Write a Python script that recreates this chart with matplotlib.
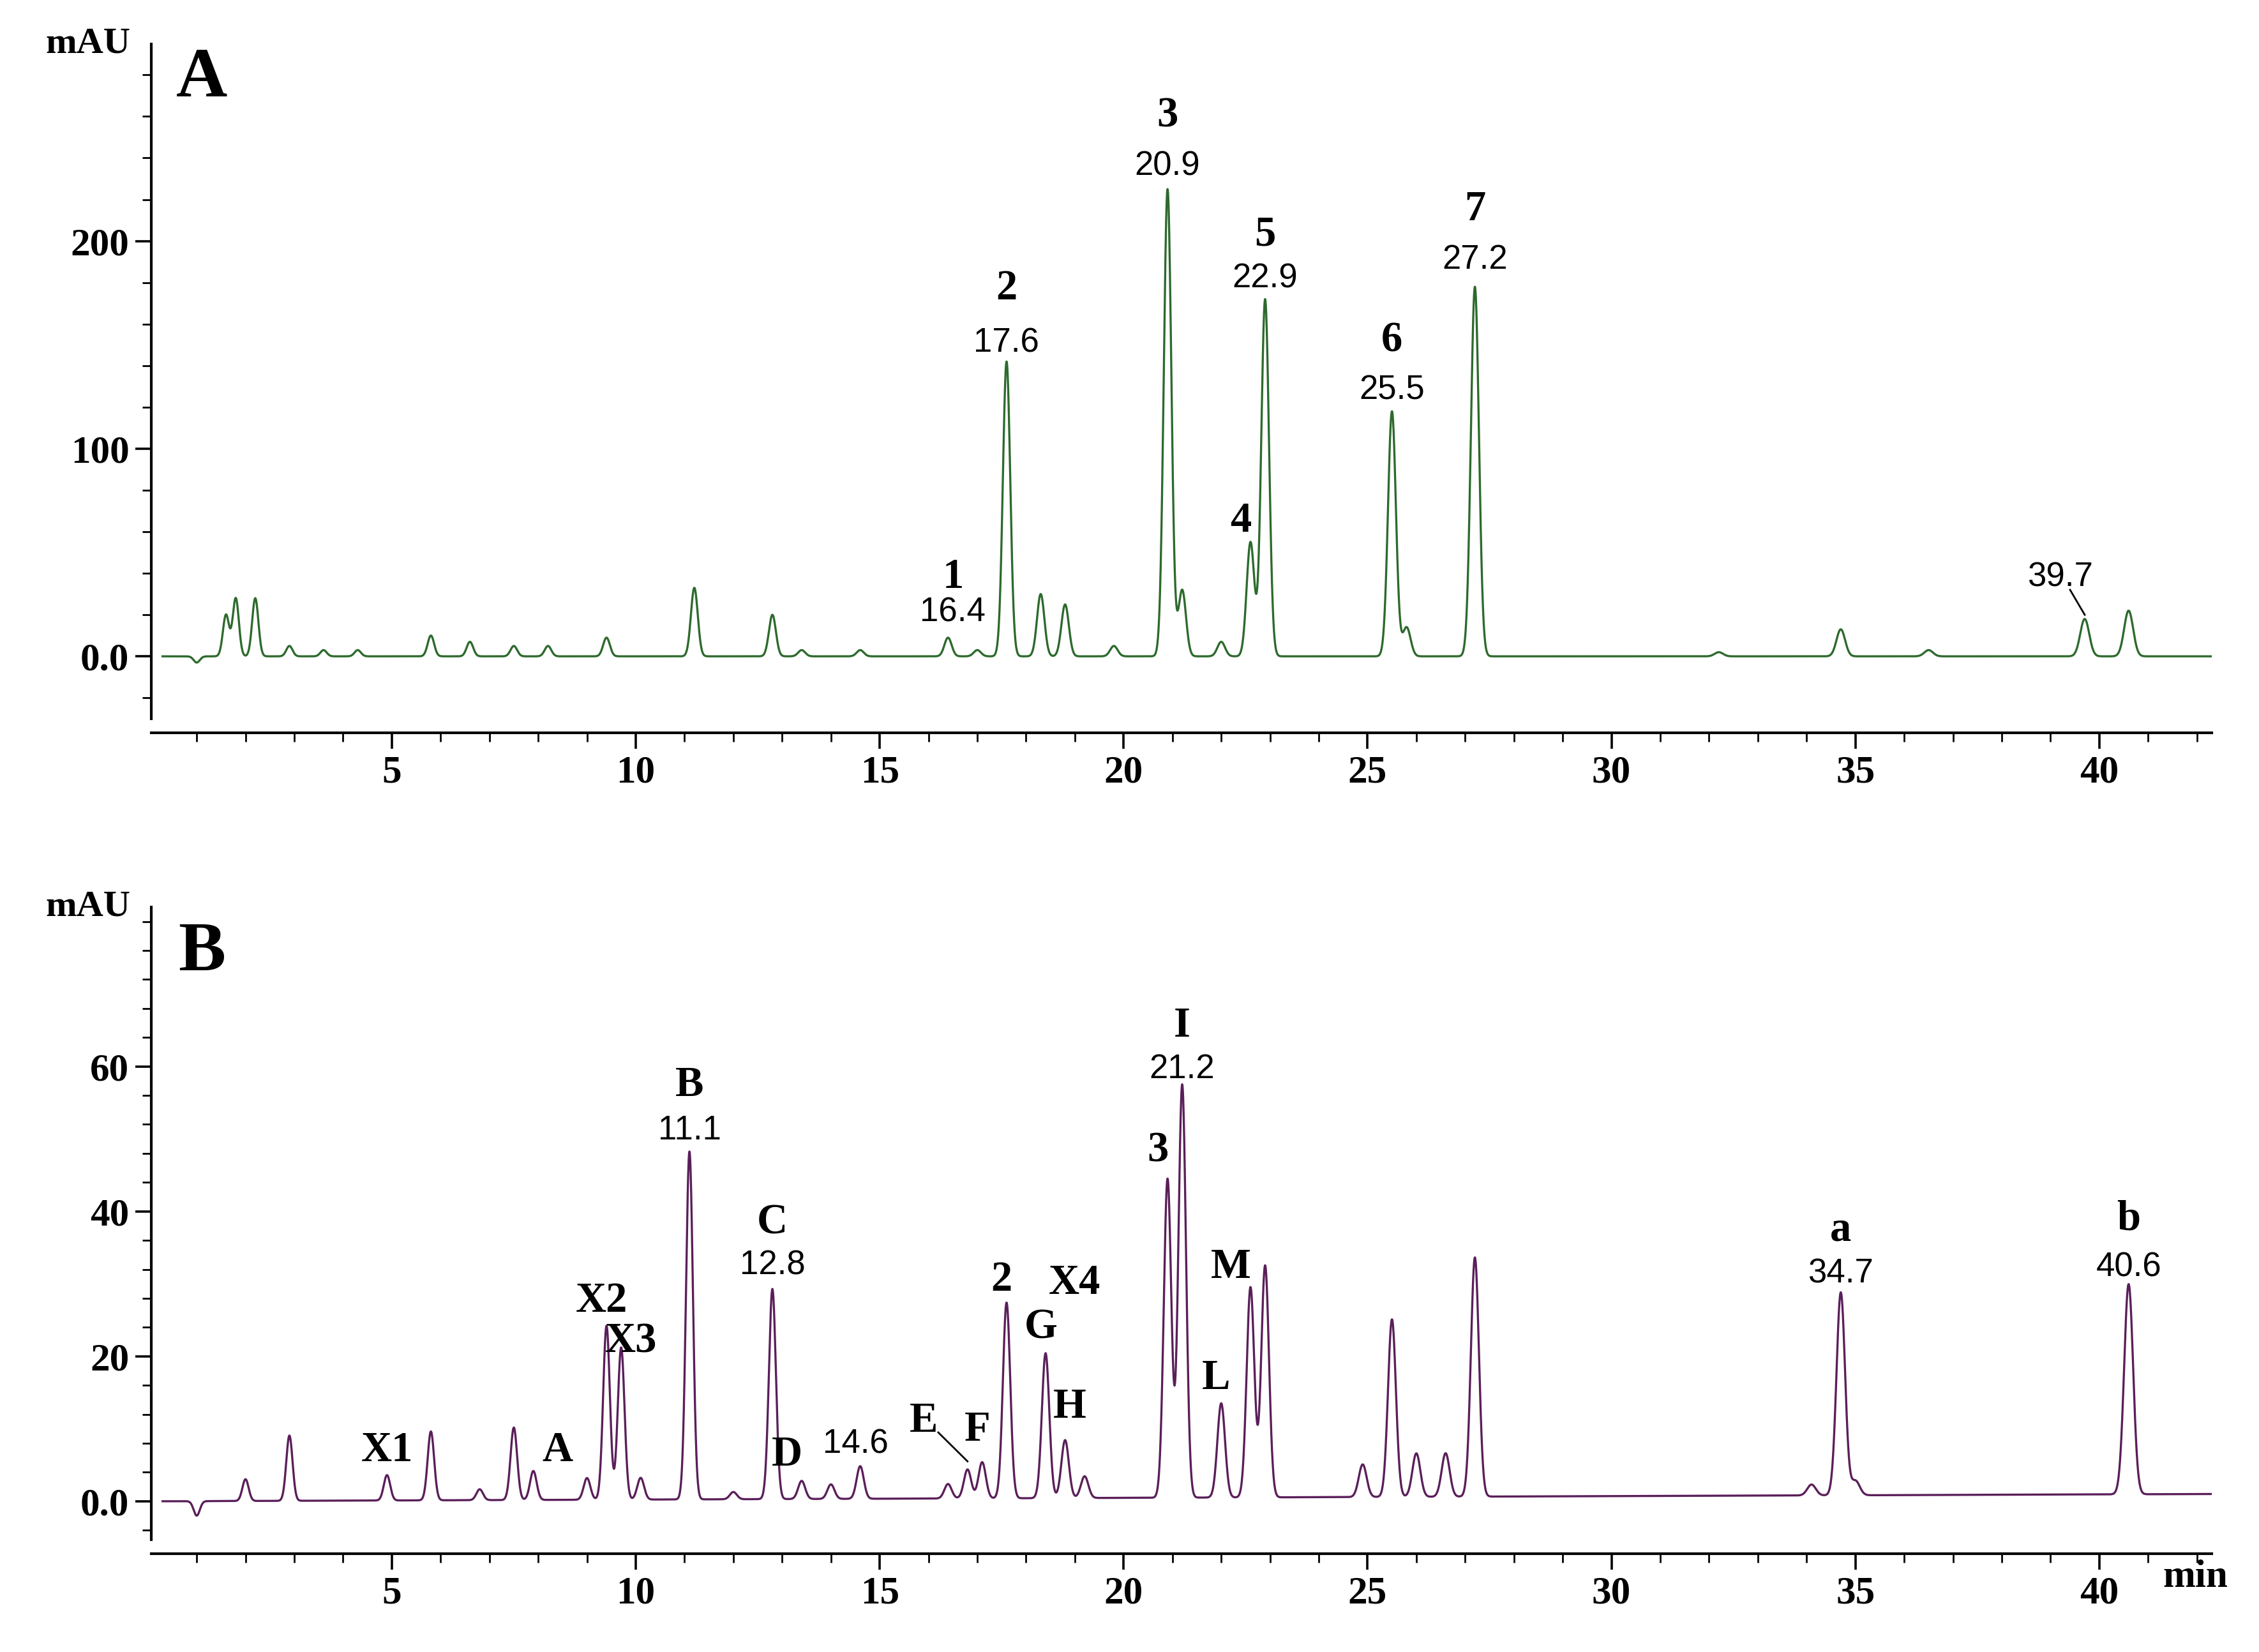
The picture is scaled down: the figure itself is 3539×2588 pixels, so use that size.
import numpy as np
import matplotlib
matplotlib.use("Agg")
import matplotlib.pyplot as plt
from matplotlib.ticker import MultipleLocator

# Peak tables (retention time min, apex height mAU)
a_rt = [1.0, 1.6, 1.8, 2.2, 2.9, 3.6, 4.3, 5.8, 6.6, 7.5, 8.2, 9.4, 11.2, 12.8, 13.4, 14.6, 16.4, 17.0,
        17.6, 18.3, 18.8, 19.8, 20.9, 21.2, 22.0, 22.6, 22.9, 25.5, 25.8, 27.2, 32.2, 34.7, 36.5, 39.7, 40.6]
a_h = [-3, 20, 28, 28, 5, 3, 3, 10, 7, 5, 5, 9, 33, 20, 3, 3, 9, 3,
       142, 30, 25, 5, 225, 32, 7, 55, 172, 118, 14, 178, 2, 13, 3, 18, 22]
b_rt = [1.0, 2.0, 2.9, 4.9, 5.8, 6.8, 7.5, 7.9, 9.0, 9.4, 9.7, 10.1, 11.1, 12.0, 12.8, 13.4, 14.0, 14.6,
        16.4, 16.8, 17.1, 17.6, 18.4, 18.8, 19.2, 20.9, 21.2, 22.0, 22.6, 22.9, 24.9, 25.5, 26.0, 26.6,
        27.2, 34.1, 34.7, 35.0, 40.6]
b_h = [-2, 3, 9, 3.5, 9.5, 1.5, 10, 4, 3, 24, 21, 3, 48, 1, 29, 2.5, 2, 4.5,
       2, 4, 5, 27, 20, 8, 3, 44, 57, 13, 29, 32, 4.5, 24.5, 6, 6,
       33, 1.5, 28, 2, 29]

green = "#2d6a2d"
purple = "#5a1f5a"

t = np.linspace(0.3, 42.3, 12000)

def trace(rts, hs, sig, drift):
    y = np.zeros_like(t)
    for r, h in zip(rts, hs):
        s = sig * (1 + 0.012 * r)
        y += h * np.exp(-0.5 * ((t - r) / s) ** 2)
    y += drift * (t - 0.3) / 42.0
    return y

ya = trace(a_rt, a_h, 0.062, 0.0)
yb = trace(b_rt, b_h, 0.062, 1.0)

fig = plt.figure(figsize=(17.695, 12.94), dpi=200)
axA = fig.add_axes([0.067, 0.565, 0.912, 0.4085])
axB = fig.add_axes([0.067, 0.068, 0.912, 0.383])

serif = "Liberation Serif"
sans = "Liberation Sans"

def style(ax, ylim, majors, minor, labels):
    ax.set_xlim(0.07, 42.3)
    ax.set_ylim(*ylim)
    for s in ["top", "right"]:
        ax.spines[s].set_visible(False)
    ax.spines["bottom"].set_position(("outward", 8))
    ax.spines["left"].set_linewidth(1.5)
    ax.spines["bottom"].set_linewidth(1.5)
    ax.xaxis.set_major_locator(MultipleLocator(5))
    ax.xaxis.set_minor_locator(MultipleLocator(1))
    ax.yaxis.set_minor_locator(MultipleLocator(minor))
    ax.set_yticks(majors)
    ax.set_yticklabels(labels)
    ax.xaxis.set_major_formatter(matplotlib.ticker.FuncFormatter(lambda v, p: "" if v == 0 else f"{int(v)}"))
    ax.tick_params(which="major", length=9, width=1.3, direction="out", labelsize=22)
    ax.tick_params(which="minor", length=5, width=1.0, direction="out")
    for lab in ax.get_xticklabels() + ax.get_yticklabels():
        lab.set_fontfamily(serif); lab.set_fontweight("bold")
    ax.text(-0.01, 1.0, "mAU", transform=ax.transAxes, ha="right", va="center",
            fontsize=21, fontweight="bold", fontfamily=serif)

axA.plot(t, ya, color=green, lw=1.2)
axB.plot(t, yb, color=purple, lw=1.2)
style(axA, (-30, 295), [0, 100, 200], 20, ["0.0", "100", "200"])
style(axB, (-5.3, 82), [0, 20, 40, 60], 4, ["0.0", "20", "40", "60"])

def B(ax, x, y, s, size=24):
    ax.text(x, y, s, ha="center", va="center", fontsize=size, fontweight="bold", fontfamily=serif)

def N(ax, x, y, s):
    ax.text(x, y, s, ha="center", va="center", fontsize=19, fontfamily=sans)

axA.text(1.1, 278, "A", ha="center", va="center", fontsize=40, fontweight="bold", fontfamily=serif)
for x, yl, yn, l, n in [(16.5, 38, 21, "1", "16.4"), (17.6, 177, 151, "2", "17.6"),
                        (20.9, 260, 236, "3", "20.9"), (22.9, 203, 182, "5", "22.9"),
                        (25.5, 152, 128, "6", "25.5"), (27.2, 215, 191, "7", "27.2")]:
    B(axA, x, yl, l); N(axA, x, yn, n)
B(axA, 22.4, 65, "4")
N(axA, 39.2, 38, "39.7")
axA.plot([39.4, 39.7], [32, 20], color="k", lw=1)

axB.text(1.1, 75.6, "B", ha="center", va="center", fontsize=40, fontweight="bold", fontfamily=serif)
for x, yl, yn, l, n in [(21.2, 65.6, 59.6, "I", "21.2"), (11.1, 57.4, 51.2, "B", "11.1"),
                        (12.8, 38.4, 32.5, "C", "12.8"), (34.7, 37.4, 31.4, "a", "34.7"),
                        (40.6, 38.9, 32.3, "b", "40.6")]:
    B(axB, x, yl, l); N(axB, x, yn, n)
for x, y, l in [(20.7, 48.3, "3"), (9.3, 27.6, "X2"), (9.9, 22, "X3"), (4.9, 7, "X1"),
                (8.4, 7, "A"), (13.1, 6.4, "D"), (15.9, 11, "E"), (17.0, 9.8, "F"),
                (17.5, 30.5, "2"), (19.0, 30.1, "X4"), (18.3, 23.9, "G"), (18.9, 13, "H"),
                (22.2, 32.3, "M"), (21.9, 16.9, "L")]:
    B(axB, x, y, l)
N(axB, 14.5, 7.9, "14.6")
axB.plot([16.2, 16.8], [9.5, 5.5], color="k", lw=1)
axB.text(41.3, -10.5, "min", ha="left", va="center", fontsize=22, fontweight="bold",
         fontfamily=serif, clip_on=False)

fig.savefig("out.png", dpi=200)
